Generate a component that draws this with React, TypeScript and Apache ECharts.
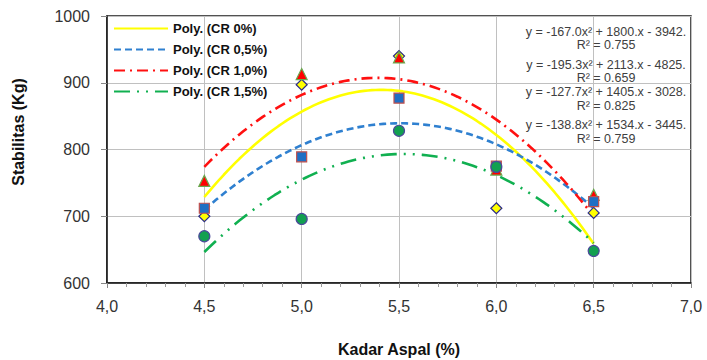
import React, { useEffect, useRef } from "react";
import * as echarts from "echarts";

const xValues = [4.5, 5.0, 5.5, 6.0, 6.5];
const cr0 = [700, 897, 940, 712, 705];
const cr05 = [712, 789, 877, 775, 722];
const cr10 = [753, 913, 938, 770, 732];
const cr15 = [670, 696, 828, 774, 648];
const legendNames = ["Poly. (CR 0%)", "Poly. (CR 0,5%)", "Poly. (CR 1,0%)", "Poly. (CR 1,5%)"];
const equationLines = [
  "y = -167.0x² + 1800.x - 3942.",
  "R² = 0.755",
  "y = -195.3x² + 2113.x - 4825.",
  "R² = 0.659",
  "y = -127.7x² + 1405.x - 3028.",
  "R² = 0.825",
  "y = -138.8x² + 1534.x - 3445.",
  "R² = 0.759",
];
const equationY = [32, 45, 65, 78, 92, 106, 125, 139];

// least-squares quadratic trendline (like Excel's "Poly." trendline)
function quadFit(xs: number[], ys: number[]) {
  const n = xs.length;
  let s0 = n, s1 = 0, s2 = 0, s3 = 0, s4 = 0, t0 = 0, t1 = 0, t2 = 0;
  for (let i = 0; i < n; i++) {
    const x = xs[i], y = ys[i];
    s1 += x; s2 += x * x; s3 += x ** 3; s4 += x ** 4;
    t0 += y; t1 += x * y; t2 += x * x * y;
  }
  const M = [
    [s0, s1, s2, t0],
    [s1, s2, s3, t1],
    [s2, s3, s4, t2],
  ];
  for (let c = 0; c < 3; c++) {
    for (let r = c + 1; r < 3; r++) {
      const f = M[r][c] / M[c][c];
      for (let k = c; k < 4; k++) M[r][k] -= f * M[c][k];
    }
  }
  const coef = [0, 0, 0];
  for (let r = 2; r >= 0; r--) {
    let s = M[r][3];
    for (let k = r + 1; k < 3; k++) s -= M[r][k] * coef[k];
    coef[r] = s / M[r][r];
  }
  return (x: number) => coef[0] + coef[1] * x + coef[2] * x * x;
}

function trend(ys: number[]) {
  const f = quadFit(xValues, ys);
  const pts: number[][] = [];
  const x0 = xValues[0], x1 = xValues[xValues.length - 1];
  const steps = 100;
  for (let i = 0; i <= steps; i++) {
    const x = x0 + ((x1 - x0) * i) / steps;
    pts.push([x, f(x)]);
  }
  return pts;
}

const pairs = (ys: number[]) => xValues.map((x, i) => [x, ys[i]]);

export default function App() {
  const ref = useRef<HTMLDivElement>(null);
  useEffect(() => {
    document.body.style.margin = "0";
    const chart = echarts.init(ref.current!, undefined, { renderer: "svg" });
    const font = "'Liberation Sans', Arial, sans-serif";
    const lineSeries = (name: string, ys: number[], color: string, type: any) => ({
      name,
      type: "line",
      data: trend(ys),
      symbol: "none",
      showSymbol: false,
      smooth: false,
      lineStyle: { color, width: 2.6, type },
      itemStyle: { color },
      z: 3,
    });
    const scatter = (ys: number[], symbol: string, size: number, fill: string, border: string, z: number) => ({
      type: "scatter",
      data: pairs(ys),
      symbol,
      symbolSize: size,
      itemStyle: { color: fill, borderColor: border, borderWidth: 1.2, opacity: 1 },
      z,
    });
    chart.setOption({
      animation: false,
      backgroundColor: "#ffffff",
      textStyle: { fontFamily: font },
      grid: {
        left: 107,
        right: 16,
        top: 16,
        bottom: 77,
        show: true,
        borderColor: "#1a1a1a",
        borderWidth: 1.5,
        backgroundColor: "transparent",
      },
      legend: {
        data: legendNames,
        orient: "vertical",
        left: 113,
        top: 22,
        padding: 0,
        itemWidth: 54,
        itemHeight: 14,
        itemGap: 8,
        itemStyle: { opacity: 0 },
        textStyle: { fontFamily: font, fontSize: 13, fontWeight: "bold", color: "#111" },
      },
      xAxis: {
        type: "value",
        min: 4,
        max: 7,
        interval: 0.5,
        axisLine: { show: true, lineStyle: { color: "#1a1a1a", width: 1.5 } },
        axisTick: { show: true, inside: false, length: 5, lineStyle: { color: "#888" } },
        minorTick: { show: true, splitNumber: 5, length: 4, lineStyle: { color: "#999" } },
        splitLine: { show: true, lineStyle: { color: "#c0c0c0", width: 1 } },
        axisLabel: {
          margin: 15,
          fontSize: 16,
          color: "#333",
          fontFamily: font,
          formatter: (v: number) => v.toFixed(1).replace(".", ","),
        },
      },
      yAxis: {
        type: "value",
        min: 600,
        max: 1000,
        interval: 100,
        axisLine: { show: true, lineStyle: { color: "#1a1a1a", width: 1.5 } },
        axisTick: { show: true, inside: false, length: 6, lineStyle: { color: "#888" } },
        splitLine: { show: true, lineStyle: { color: "#c0c0c0", width: 1 } },
        axisLabel: {
          margin: 17,
          fontSize: 16,
          color: "#333",
          fontFamily: font,
          formatter: (v: number) => String(v),
        },
      },
      graphic: [
        {
          type: "text",
          x: 18,
          y: 132,
          rotation: Math.PI / 2,
          style: {
            text: "Stabilitas (Kg)",
            fill: "#111",
            font: `bold 16px ${font}`,
            textAlign: "center",
            textVerticalAlign: "middle",
          },
        },
        {
          type: "text",
          x: 399,
          y: 349,
          style: {
            text: "Kadar Aspal (%)",
            fill: "#111",
            font: `bold 16px ${font}`,
            textAlign: "center",
            textVerticalAlign: "middle",
          },
        },
        ...equationLines.map((t, i) => ({
          type: "text",
          x: 606,
          y: equationY[i],
          z: 10,
          style: {
            text: t,
            fill: "#404040",
            font: `12.5px ${font}`,
            lineHeight: 12,
            textAlign: "center",
            textVerticalAlign: "middle",
          },
        })),
      ],
      series: [
        lineSeries(legendNames[0], cr0, "#ffff00", "solid"),
        lineSeries(legendNames[1], cr05, "#2f80d0", [7, 4]),
        lineSeries(legendNames[2], cr10, "#ff1010", [11, 5, 2, 5]),
        lineSeries(legendNames[3], cr15, "#10b050", [16, 7, 2, 7, 2, 7]),
        scatter(cr0, "diamond", 11, "#ffff00", "#2a2a8a", 4),
        scatter(cr10, "triangle", 11, "#ff0000", "#6aa84f", 5),
        scatter(cr05, "rect", 10, "#1f6fc4", "#c0504d", 6),
        scatter(cr15, "circle", 11, "#12a050", "#4a4a9a", 7),
      ],
    });
    return () => chart.dispose();
  }, []);
  return <div ref={ref} style={{ width: 707, height: 360 }} />;
}
